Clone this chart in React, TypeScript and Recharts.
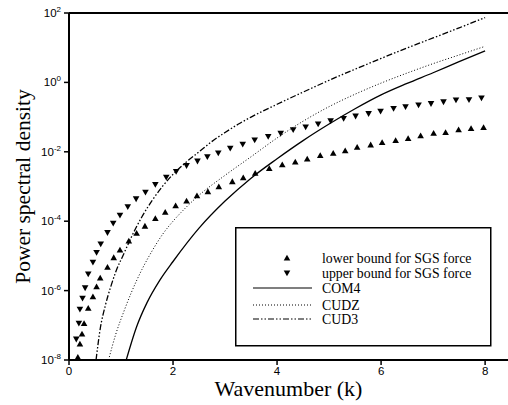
import React from "react";
import { ComposedChart, Line, Scatter, XAxis, YAxis, ReferenceLine } from "recharts";

// wavenumber / power spectral density pairs
const lowerBoundK = [0.17, 0.21, 0.25, 0.29, 0.37, 0.46, 0.53, 0.6, 0.74, 0.86, 0.98, 1.15, 1.3, 1.46, 1.66, 1.85, 2.05, 2.26, 2.46, 2.67, 2.88, 3.14, 3.35, 3.58, 3.85, 4.1, 4.35, 4.58, 4.83, 5.08, 5.31, 5.54, 5.8, 6.02, 6.28, 6.52, 6.76, 7.01, 7.24, 7.49, 7.73, 7.97];
const lowerBoundP = [1.2e-8, 2.9e-8, 5.6e-8, 1.12e-7, 3.1e-7, 6.6e-7, 1.29e-6, 2.3e-6, 4.7e-6, 8.9e-6, 1.48e-5, 2.7e-5, 4.5e-5, 7.2e-5, 1.2e-4, 1.82e-4, 2.8e-4, 3.8e-4, 5.4e-4, 7.1e-4, 9.8e-4, 1.38e-3, 1.78e-3, 2.4e-3, 3.3e-3, 4.2e-3, 5.1e-3, 6.2e-3, 7.8e-3, 9.1e-3, 1.07e-2, 1.35e-2, 1.58e-2, 1.86e-2, 2.1e-2, 2.4e-2, 2.9e-2, 3.4e-2, 3.6e-2, 4.3e-2, 4.7e-2, 5.0e-2];

const upperBoundK = [0.14, 0.19, 0.21, 0.26, 0.31, 0.37, 0.46, 0.53, 0.61, 0.74, 0.85, 0.98, 1.13, 1.29, 1.47, 1.66, 1.87, 2.06, 2.26, 2.47, 2.66, 2.87, 3.1, 3.34, 3.57, 3.83, 4.07, 4.31, 4.55, 4.79, 5.03, 5.28, 5.51, 5.76, 5.99, 6.24, 6.47, 6.72, 6.96, 7.2, 7.44, 7.69, 7.93];
const upperBoundP = [4.0e-8, 1.15e-7, 2.9e-7, 6.0e-7, 1.2e-6, 3.0e-6, 6.6e-6, 1.26e-5, 2.2e-5, 4.7e-5, 8.7e-5, 1.48e-4, 2.6e-4, 4.4e-4, 6.8e-4, 1.15e-3, 1.86e-3, 2.7e-3, 4.0e-3, 5.4e-3, 7.2e-3, 9.3e-3, 1.26e-2, 1.66e-2, 2.2e-2, 2.75e-2, 3.4e-2, 4.3e-2, 5.2e-2, 6.3e-2, 7.8e-2, 9.1e-2, 0.107, 0.126, 0.148, 0.178, 0.2, 0.224, 0.245, 0.275, 0.31, 0.316, 0.355];

const com4K = [1.1, 1.3, 1.5, 1.75, 2.0, 2.5, 3.0, 3.5, 4.0, 4.5, 5.0, 5.5, 6.0, 6.5, 7.0, 7.5, 8.0];
const com4P = [1.0e-8, 9.1e-8, 4.5e-7, 2.04e-6, 6.9e-6, 6.3e-5, 3.8e-4, 1.74e-3, 6.3e-3, 2.1e-2, 6.3e-2, 0.174, 0.436, 0.933, 1.9, 3.98, 8.13];

const cudzK = [0.76, 0.9, 1.05, 1.2, 1.4, 1.6, 1.8, 2.0, 2.25, 2.5, 3.0, 3.5, 4.0, 4.5, 5.0, 5.5, 6.0, 6.5, 7.0, 7.5, 8.0];
const cudzP = [1.0e-8, 5.6e-8, 2.4e-7, 8.9e-7, 4.0e-6, 1.41e-5, 4.2e-5, 1.0e-4, 2.5e-4, 5.6e-4, 2.1e-3, 7.2e-3, 2.5e-2, 7.6e-2, 0.2, 0.457, 0.955, 1.86, 3.47, 6.17, 10.96];

const cud3K = [0.52, 0.6, 0.7, 0.8, 0.9, 1.05, 1.2, 1.4, 1.6, 1.8, 2.0, 2.25, 2.5, 2.75, 3.0, 3.25, 3.5, 4.0, 4.5, 5.0, 5.5, 6.0, 6.5, 7.0, 7.5, 8.0];
const cud3P = [1.0e-8, 7.9e-8, 3.8e-7, 1.26e-6, 3.5e-6, 1.12e-5, 3.5e-5, 1.32e-4, 4.0e-4, 1.02e-3, 2.24e-3, 5.0e-3, 1.0e-2, 2.0e-2, 3.6e-2, 6.2e-2, 0.1, 0.234, 0.525, 1.15, 2.4, 4.9, 9.8, 19.1, 37.2, 74];

const xTicks = [0, 2, 4, 6, 8];
const yTicks = [1e-8, 1e-6, 1e-4, 1e-2, 1, 100];
const yExponents = ["-8", "-6", "-4", "-2", "0", "2"];

const legendLabels = ["lower bound for SGS force", "upper bound for SGS force", "COM4", "CUDZ", "CUD3"];

const zip = (k: number[], p: number[]) => k.map((v, i) => ({ k: v, p: p[i] }));

const lowerData = zip(lowerBoundK, lowerBoundP);
const upperData = zip(upperBoundK, upperBoundP);
const com4Data = zip(com4K, com4P);
const cudzData = zip(cudzK, cudzP);
const cud3Data = zip(cud3K, cud3P);

const SANS = "'Liberation Sans', Arial, sans-serif";
const SERIF = "'Liberation Serif', 'Times New Roman', serif";
const DOTTED = "1 2";
const DASH_DOT = "6 2 1.5 2 1.5 2";

const UpTriangle = (props: any) => {
  const { cx, cy } = props;
  if (cx == null || cy == null) return null;
  return <polygon points={`${cx},${cy - 3.3} ${cx - 3.3},${cy + 2.5} ${cx + 3.3},${cy + 2.5}`} fill="#000" />;
};

const DownTriangle = (props: any) => {
  const { cx, cy } = props;
  if (cx == null || cy == null) return null;
  return <polygon points={`${cx},${cy + 3.3} ${cx - 3.3},${cy - 2.5} ${cx + 3.3},${cy - 2.5}`} fill="#000" />;
};

const YTick = (props: any) => {
  const { x, y, payload } = props;
  const i = yTicks.indexOf(payload.value);
  return (
    <text x={x} y={y + 4} textAnchor="end" fontFamily={SANS} fontSize={11.5} fill="#000">
      10
      <tspan dy={-5} fontSize={8}>{yExponents[i]}</tspan>
    </text>
  );
};

// legend box, placed over the lower right of the plot
const LegendBox = () => {
  const rows = [31, 46, 61, 78, 92];
  return (
    <svg width={257} height={120} style={{ position: "absolute", left: 235, top: 227, display: "block" }}>
      <rect x={0.75} y={0.75} width={255} height={118} fill="#fff" stroke="#000" strokeWidth={1.5} />
      <UpTriangle cx={52} cy={rows[0]} />
      <DownTriangle cx={52} cy={rows[1]} />
      <line x1={18} x2={77} y1={rows[2]} y2={rows[2]} stroke="#000" strokeWidth={1.2} />
      <line x1={18} x2={77} y1={rows[3]} y2={rows[3]} stroke="#000" strokeWidth={1} strokeDasharray={DOTTED} />
      <line x1={18} x2={77} y1={rows[4]} y2={rows[4]} stroke="#000" strokeWidth={1.2} strokeDasharray={DASH_DOT} />
      {legendLabels.map((t, i) => (
        <text key={t} x={87} y={rows[i] + 4.5} fontFamily={SERIF} fontSize={13.8} fill="#000">
          {t}
        </text>
      ))}
    </svg>
  );
};

export default function App() {
  return (
    <div style={{ position: "relative", width: 508, height: 405, background: "#fff" }}>
      <style>{"body{margin:0}"}</style>
      <ComposedChart width={508} height={405} margin={{ top: 13, right: 0, left: 0, bottom: 0 }}>
        <XAxis
          type="number"
          dataKey="k"
          domain={[0, 8.44]}
          ticks={xTicks}
          allowDataOverflow
          height={45}
          tickSize={5}
          tickMargin={2}
          axisLine={{ stroke: "#000", strokeWidth: 2 }}
          tickLine={{ stroke: "#000", strokeWidth: 1.5 }}
          tick={{ fill: "#000", fontFamily: SANS, fontSize: 11.5 }}
          label={{ value: "Wavenumber (k)", position: "insideBottom", offset: 9, style: { fill: "#000", fontFamily: SERIF, fontSize: 22 } }}
        />
        <YAxis
          type="number"
          dataKey="p"
          scale="log"
          domain={[1e-8, 100]}
          ticks={yTicks}
          allowDataOverflow
          width={69}
          tickSize={5}
          tickMargin={3}
          axisLine={{ stroke: "#000", strokeWidth: 2 }}
          tickLine={{ stroke: "#000", strokeWidth: 1.5 }}
          tick={<YTick />}
          label={{ value: "Power spectral density", angle: -90, position: "insideLeft", dx: 17, style: { textAnchor: "middle", fill: "#000", fontFamily: SERIF, fontSize: 21.5 } }}
        />
        <ReferenceLine y={100} stroke="#000" strokeWidth={2} />
        <Line data={com4Data} dataKey="p" type="monotone" stroke="#000" strokeWidth={1.3} dot={false} isAnimationActive={false} />
        <Line data={cudzData} dataKey="p" type="monotone" stroke="#000" strokeWidth={1} strokeDasharray={DOTTED} dot={false} isAnimationActive={false} />
        <Line data={cud3Data} dataKey="p" type="monotone" stroke="#000" strokeWidth={1.3} strokeDasharray={DASH_DOT} dot={false} isAnimationActive={false} />
        <Scatter data={lowerData} dataKey="p" shape={<UpTriangle />} isAnimationActive={false} />
        <Scatter data={upperData} dataKey="p" shape={<DownTriangle />} isAnimationActive={false} />
      </ComposedChart>
      <LegendBox />
    </div>
  );
}
